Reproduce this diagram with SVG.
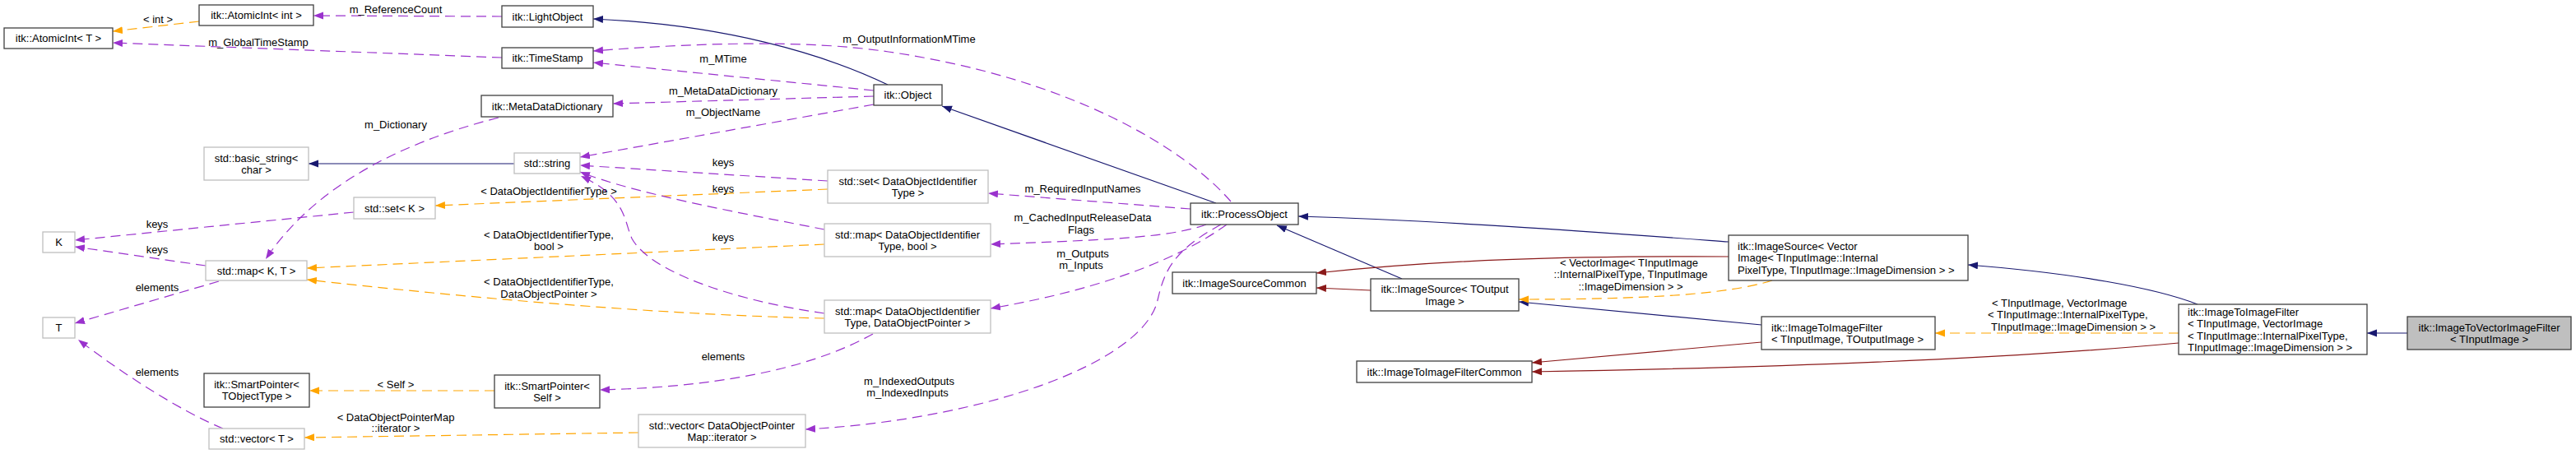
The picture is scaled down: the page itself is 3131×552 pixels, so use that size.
<svg xmlns="http://www.w3.org/2000/svg" width="3131" height="552" viewBox="0 0 3131 552">
<style>
text{font-family:"Liberation Sans",Arial,Helvetica,sans-serif;font-size:13px;fill:#000}
.c{text-anchor:middle}
.nb rect{fill:#fff;stroke:#404040;stroke-width:1.3}
.ng rect{fill:#fff;stroke:#bfbfbf;stroke-width:1.3}
.nt rect{fill:#bfbfbf;stroke:#404040;stroke-width:1.3}
.e path{fill:none;stroke-width:1.2}
.u{stroke:#9a32cd;stroke-dasharray:12,7;marker-end:url(#mu)}
.t{stroke:#ffa500;stroke-dasharray:12,7;marker-end:url(#mt)}
.i{stroke:#191970;marker-end:url(#mi)}
.p{stroke:#8b1a1a;marker-end:url(#mp)}
</style>
<defs>
<marker id="mu" markerUnits="userSpaceOnUse" markerWidth="13" markerHeight="10" refX="12" refY="4.5" orient="auto"><path d="M0,0L12,4.5L0,9z" fill="#9a32cd"/></marker>
<marker id="mt" markerUnits="userSpaceOnUse" markerWidth="13" markerHeight="10" refX="12" refY="4.5" orient="auto"><path d="M0,0L12,4.5L0,9z" fill="#ffa500"/></marker>
<marker id="mi" markerUnits="userSpaceOnUse" markerWidth="13" markerHeight="10" refX="12" refY="4.5" orient="auto"><path d="M0,0L12,4.5L0,9z" fill="#191970"/></marker>
<marker id="mp" markerUnits="userSpaceOnUse" markerWidth="13" markerHeight="10" refX="12" refY="4.5" orient="auto"><path d="M0,0L12,4.5L0,9z" fill="#8b1a1a"/></marker>
</defs>
<rect width="3131" height="552" fill="#fff"/>
<g id="edges" class="e">
<path class="i" d="M1079,103 C1000,65 880,30 721,23"/>
<path class="i" d="M1478,247 L1145,129"/>
<path class="i" d="M625,199 L375,199"/>
<path class="i" d="M1704,339 L1552,274"/>
<path class="i" d="M2101,294 C1950,283 1750,268 1578,263"/>
<path class="i" d="M2141,395 L1846,367"/>
<path class="i" d="M2671,370 C2620,350 2520,332 2392,322"/>
<path class="i" d="M2926,405 L2877,405"/>
<path class="p" d="M1666,353 L1600,350"/>
<path class="p" d="M2101,312 C1900,311 1750,316 1600,332"/>
<path class="p" d="M2141,416 L1862,441"/>
<path class="p" d="M2648,417 C2400,440 2100,448 1862,452"/>
<path class="t" d="M242,26 L137,38"/>
<path class="t" d="M1006,230 L529,250"/>
<path class="t" d="M1002,297 L373,326"/>
<path class="t" d="M1002,387 C800,383 550,360 373,340"/>
<path class="t" d="M601,475 L376,475"/>
<path class="t" d="M776,526 L370,532"/>
<path class="t" d="M2154,341 C2100,358 2000,364 1846,364"/>
<path class="t" d="M2648,405 L2352,405"/>
<path class="u" d="M610,20 L381,19"/>
<path class="u" d="M610,70 L137,52"/>
<path class="u" d="M1062,110 L721,76"/>
<path class="u" d="M1496,245 C1440,180 1300,95 1080,63 C980,48 850,52 721,62"/>
<path class="u" d="M1062,117 L745,126"/>
<path class="u" d="M1062,127 L705,191"/>
<path class="u" d="M606,143 C480,175 380,230 323,315"/>
<path class="u" d="M1006,220 L705,201"/>
<path class="u" d="M1002,279 C900,259 770,235 705,209"/>
<path class="u" d="M1002,381 C890,365 790,330 768,290 C758,268 762,240 706,214"/>
<path class="u" d="M1447,254 L1201,235"/>
<path class="u" d="M1466,273 C1420,290 1330,292 1204,297"/>
<path class="u" d="M1491,273 C1440,310 1350,350 1204,375"/>
<path class="u" d="M1484,273 C1425,305 1415,330 1407,365 C1390,440 1200,510 979,522"/>
<path class="u" d="M1061,406 C1000,440 900,470 729,474"/>
<path class="u" d="M430,258 L91,292"/>
<path class="u" d="M250,323 L91,300"/>
<path class="u" d="M266,342 L91,393"/>
<path class="u" d="M271,521 C220,500 150,455 95,413"/>
</g>
<g id="labels">
<text class="c" x="192" y="27.5">&lt; int &gt;</text>
<text class="c" x="481" y="16">m_ReferenceCount</text>
<text class="c" x="314" y="55.5">m_GlobalTimeStamp</text>
<text class="c" x="481" y="155.5">m_Dictionary</text>
<text class="c" x="191" y="276.5">keys</text>
<text class="c" x="191" y="308">keys</text>
<text class="c" x="191" y="353.5">elements</text>
<text class="c" x="191" y="456.5">elements</text>
<text class="c" x="481" y="471.5">&lt; Self &gt;</text>
<text class="c" x="481" y="511.5">&lt; DataObjectPointerMap</text>
<text class="c" x="481" y="524.5">::iterator &gt;</text>
<text class="c" x="1105" y="51.5">m_OutputInformationMTime</text>
<text class="c" x="879" y="75.5">m_MTime</text>
<text class="c" x="879" y="114.5">m_MetaDataDictionary</text>
<text class="c" x="879" y="140.5">m_ObjectName</text>
<text class="c" x="879" y="201.5">keys</text>
<text class="c" x="879" y="233.5">keys</text>
<text class="c" x="667" y="236.5">&lt; DataObjectIdentifierType &gt;</text>
<text class="c" x="667" y="289.5">&lt; DataObjectIdentifierType,</text>
<text class="c" x="667" y="303.5">bool &gt;</text>
<text class="c" x="879" y="292.5">keys</text>
<text class="c" x="667" y="346.5">&lt; DataObjectIdentifierType,</text>
<text class="c" x="667" y="361.5">DataObjectPointer &gt;</text>
<text class="c" x="879" y="437.5">elements</text>
<text class="c" x="1105" y="467.5">m_IndexedOutputs</text>
<text class="c" x="1103" y="481.5">m_IndexedInputs</text>
<text class="c" x="1316" y="233.5">m_RequiredInputNames</text>
<text class="c" x="1316" y="268.5">m_CachedInputReleaseData</text>
<text class="c" x="1314" y="283.5">Flags</text>
<text class="c" x="1316" y="312.5">m_Outputs</text>
<text class="c" x="1314" y="326.5">m_Inputs</text>
<text class="c" x="1980" y="323.5">&lt; VectorImage&lt; TInputImage</text>
<text class="c" x="1982" y="337.5">::InternalPixelType, TInputImage</text>
<text class="c" x="1982" y="352.5">::ImageDimension &gt; &gt;</text>
<text x="2421" y="372.5">&lt; TInputImage, VectorImage</text>
<text x="2416" y="387">&lt; TInputImage::InternalPixelType,</text>
<text x="2420" y="401.5">TInputImage::ImageDimension &gt; &gt;</text>
</g>
<g id="n1" class="nb"><rect x="5" y="34" width="132" height="25"/><text class="c" x="71" y="51">itk::AtomicInt&lt; T &gt;</text></g>
<g id="n2" class="nb"><rect x="242" y="6" width="139" height="25"/><text class="c" x="311.5" y="23">itk::AtomicInt&lt; int &gt;</text></g>
<g id="n3" class="nb"><rect x="610" y="7" width="111" height="26"/><text class="c" x="665.5" y="24.5">itk::LightObject</text></g>
<g id="n4" class="nb"><rect x="610" y="58" width="111" height="25"/><text class="c" x="665.5" y="75">itk::TimeStamp</text></g>
<g id="n5" class="nb"><rect x="585" y="116" width="160" height="26"/><text class="c" x="665" y="133.5">itk::MetaDataDictionary</text></g>
<g id="n6" class="ng"><rect x="248" y="179" width="127" height="40"/><text class="c" x="311.5" y="196.5">std::basic_string&lt;</text><text class="c" x="311.5" y="211">char &gt;</text></g>
<g id="n7" class="ng"><rect x="625" y="186" width="80" height="25"/><text class="c" x="665" y="203">std::string</text></g>
<g id="n8" class="nb"><rect x="1062" y="103" width="83" height="25"/><text class="c" x="1103.5" y="120">itk::Object</text></g>
<g id="n9" class="ng"><rect x="430" y="240" width="99" height="26"/><text class="c" x="479.5" y="257.5">std::set&lt; K &gt;</text></g>
<g id="n10" class="ng"><rect x="52" y="282" width="39" height="25"/><text class="c" x="71.5" y="299">K</text></g>
<g id="n11" class="ng"><rect x="250" y="317" width="123" height="24"/><text class="c" x="311.5" y="333.5">std::map&lt; K, T &gt;</text></g>
<g id="n12" class="ng"><rect x="52" y="386" width="39" height="25"/><text class="c" x="71.5" y="403">T</text></g>
<g id="n13" class="nb"><rect x="248" y="454" width="128" height="41"/><text class="c" x="312" y="471.5">itk::SmartPointer&lt;</text><text class="c" x="312" y="486">TObjectType &gt;</text></g>
<g id="n14" class="ng"><rect x="254" y="521" width="116" height="25"/><text class="c" x="312" y="538">std::vector&lt; T &gt;</text></g>
<g id="n15" class="ng"><rect x="1006" y="207" width="195" height="40"/><text class="c" x="1103.5" y="224.5">std::set&lt; DataObjectIdentifier</text><text class="c" x="1103.5" y="239">Type &gt;</text></g>
<g id="n16" class="ng"><rect x="1002" y="272" width="202" height="40"/><text class="c" x="1103" y="289.5">std::map&lt; DataObjectIdentifier</text><text class="c" x="1103" y="304">Type, bool &gt;</text></g>
<g id="n17" class="ng"><rect x="1002" y="365" width="202" height="40"/><text class="c" x="1103" y="382.5">std::map&lt; DataObjectIdentifier</text><text class="c" x="1103" y="397">Type, DataObjectPointer &gt;</text></g>
<g id="n18" class="nb"><rect x="601" y="456" width="128" height="40"/><text class="c" x="665" y="473.5">itk::SmartPointer&lt;</text><text class="c" x="665" y="488">Self &gt;</text></g>
<g id="n19" class="ng"><rect x="776" y="504" width="203" height="40"/><text class="c" x="877.5" y="521.5">std::vector&lt; DataObjectPointer</text><text class="c" x="877.5" y="536">Map::iterator &gt;</text></g>
<g id="n20" class="nb"><rect x="1447" y="247" width="131" height="26"/><text class="c" x="1512.5" y="264.5">itk::ProcessObject</text></g>
<g id="n21" class="nb"><rect x="1425" y="331" width="175" height="26"/><text class="c" x="1512.5" y="348.5">itk::ImageSourceCommon</text></g>
<g id="n22" class="nb"><rect x="1666" y="339" width="180" height="39"/><text class="c" x="1756" y="356">itk::ImageSource&lt; TOutput</text><text class="c" x="1756" y="370.5">Image &gt;</text></g>
<g id="n23" class="nb"><rect x="1649" y="439" width="213" height="26"/><text class="c" x="1755.5" y="456.5">itk::ImageToImageFilterCommon</text></g>
<g id="n24" class="nb"><rect x="2101" y="286" width="291" height="55"/><text x="2112" y="303.5">itk::ImageSource&lt; Vector</text><text x="2112" y="318">Image&lt; TInputImage::Internal</text><text x="2112" y="332.5">PixelType, TInputImage::ImageDimension &gt; &gt;</text></g>
<g id="n25" class="nb"><rect x="2141" y="385" width="211" height="40"/><text x="2153" y="402.5">itk::ImageToImageFilter</text><text x="2153" y="417">&lt; TInputImage, TOutputImage &gt;</text></g>
<g id="n26" class="nb"><rect x="2648" y="370" width="229" height="61"/><text x="2659" y="383.5">itk::ImageToImageFilter</text><text x="2659" y="398">&lt; TInputImage, VectorImage</text><text x="2659" y="412.5">&lt; TInputImage::InternalPixelType,</text><text x="2659" y="427"> TInputImage::ImageDimension &gt; &gt;</text></g>
<g id="n27" class="nt"><rect x="2926" y="385" width="199" height="40"/><text class="c" x="3025.5" y="402.5">itk::ImageToVectorImageFilter</text><text class="c" x="3025.5" y="417">&lt; TInputImage &gt;</text></g>
</svg>
